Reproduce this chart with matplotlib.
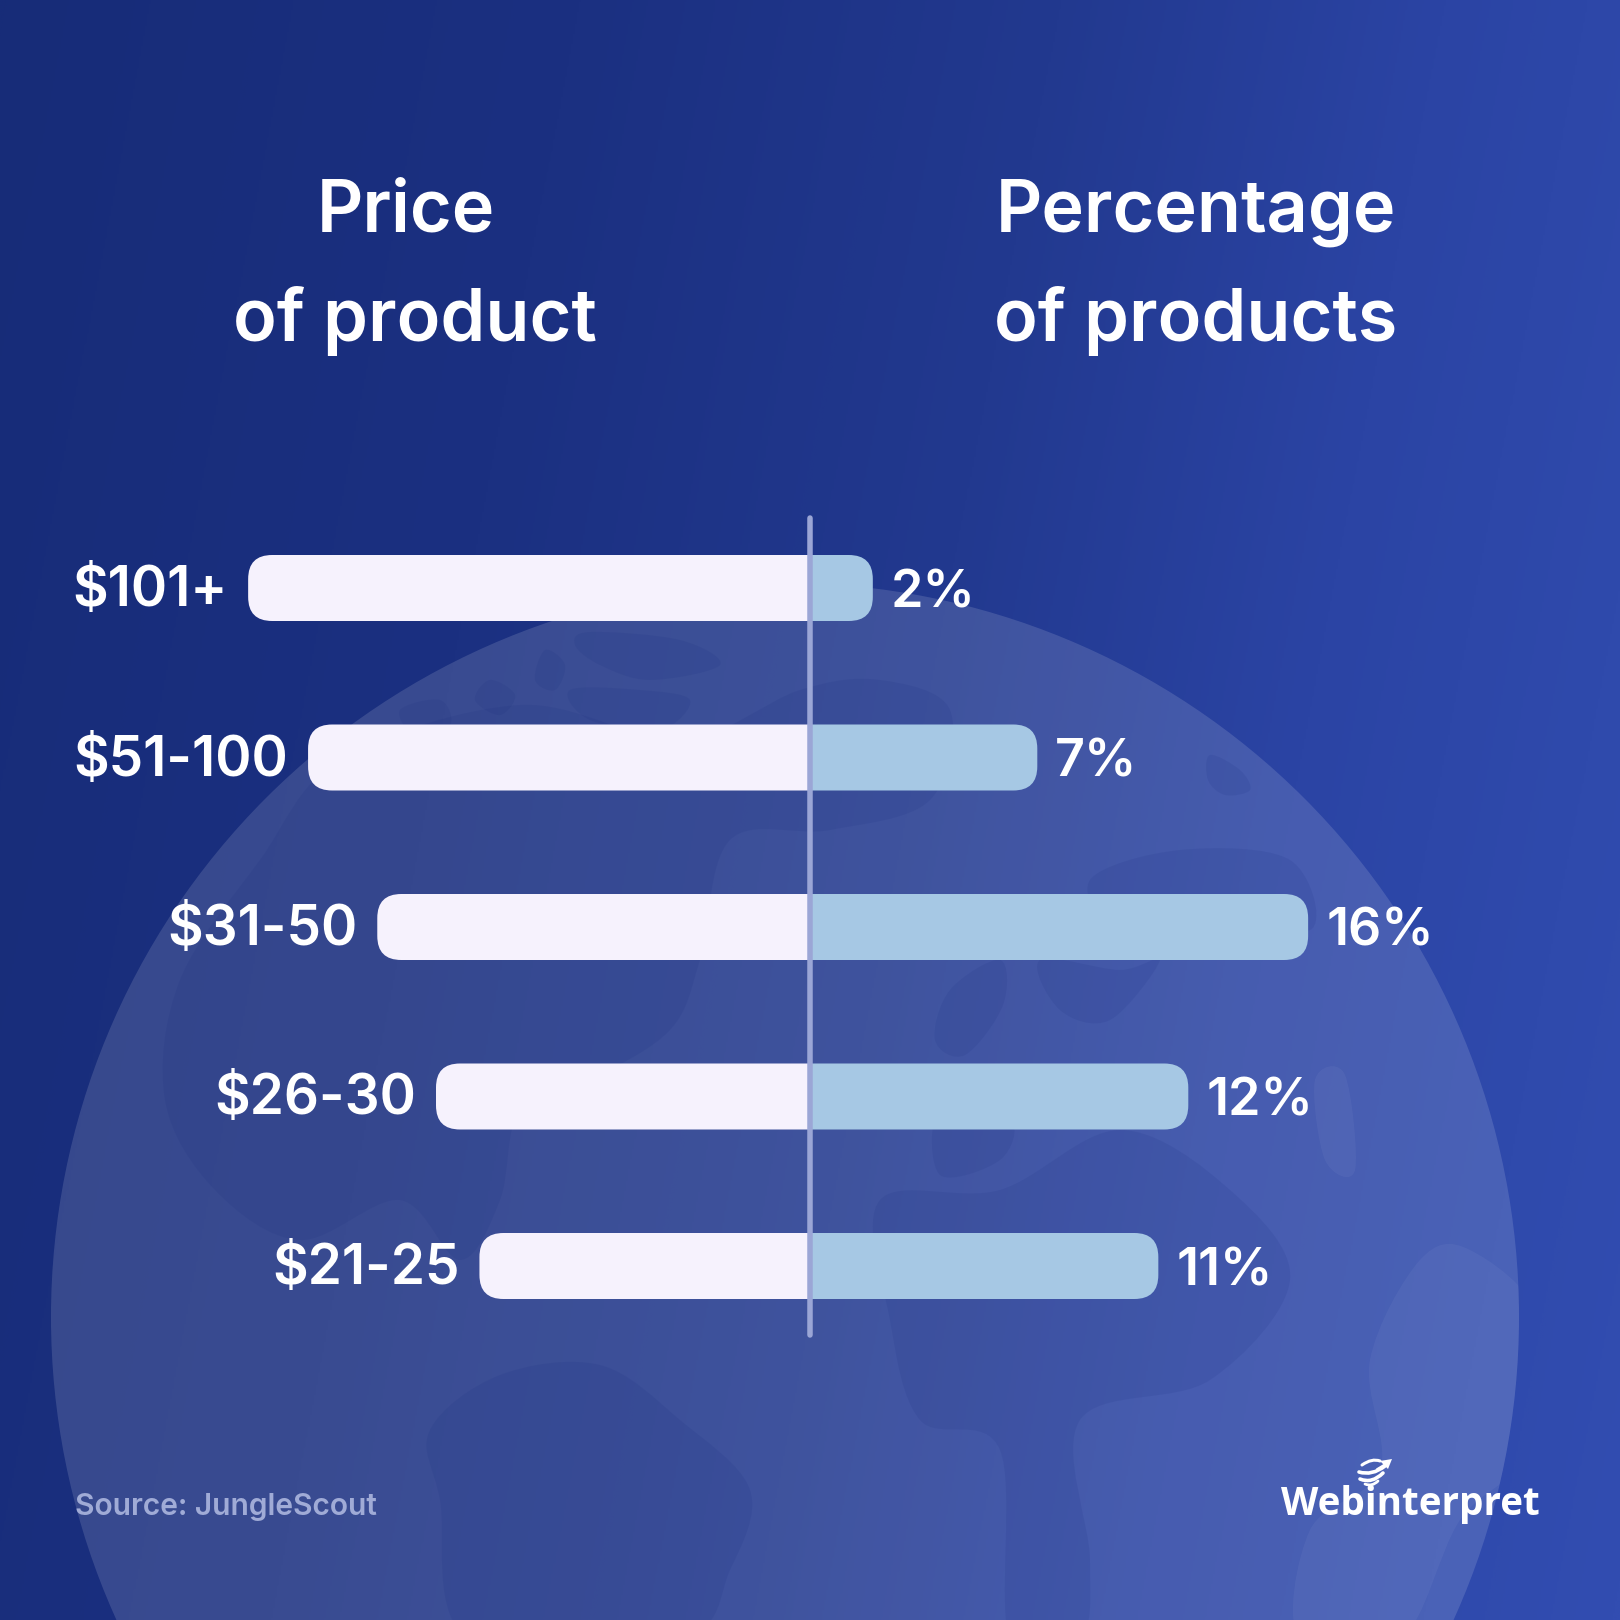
import numpy as np
import matplotlib
matplotlib.use("Agg")
import matplotlib.pyplot as plt
from matplotlib.patches import Circle, FancyBboxPatch, Rectangle, PathPatch, Polygon
from matplotlib.path import Path
from matplotlib.colors import LinearSegmentedColormap

# ---------- data ----------
price_labels = ["$101+", "$51-100", "$31-50", "$26-30", "$21-25"]
pct_labels = ["2%", "7%", "16%", "12%", "11%"]
left_lengths = [18.72, 16.72, 14.41, 12.45, 11.0]
right_lengths = [2.13, 7.62, 16.66, 12.66, 11.66]

title_left = ["Price", "of product"]
title_right = ["Percentage", "of products"]
source_text = "Source: JungleScout"
brand_text = "Webinterpret"

# ---------- layout constants (pixels) ----------
W = 1620
ZERO_X = 809.0
UNIT_PX = 29.96
ROW0_Y = 588.0
ROW_PX = 169.5
BAR_PX = 66.0
FONT = "Inter"
px = lambda v: v * 0.72

fig = plt.figure(figsize=(W / 100, W / 100), dpi=100)

# background, pixel coordinates
bg = fig.add_axes([0, 0, 1, 1])
bg.set_xlim(0, W)
bg.set_ylim(W, 0)
bg.axis("off")

xx, yy = np.meshgrid(np.linspace(0, 1, 800), np.linspace(0, 1, 800))
t = np.clip(0.84 * xx + 0.16 * yy, 0, 1)
cmap = LinearSegmentedColormap.from_list(
    "bg", [(0.0, "#172c78"), (0.3, "#1b3081"), (0.55, "#22398f"),
           (0.75, "#2b44a4"), (0.9, "#2f4aac"), (1.0, "#324db1")])
bg.imshow(t, extent=(0, W, W, 0), cmap=cmap, vmin=0, vmax=1, aspect="auto", zorder=0)

# globe
GX, GY, GR = 785, 1317, 734
globe = Circle((GX, GY), GR, fc="white", ec="none", alpha=0.135, zorder=1)
bg.add_patch(globe)
clip = Circle((GX, GY), GR, transform=bg.transData)


def blob(pts):
    """Closed smooth outline through the given points."""
    p = np.array(pts, float)
    n = len(p)
    verts = [p[0]]
    codes = [Path.MOVETO]
    for i in range(n):
        p0, p1, p2, p3 = p[(i - 1) % n], p[i], p[(i + 1) % n], p[(i + 2) % n]
        verts += [p1 + (p2 - p0) / 6, p2 - (p3 - p1) / 6, p2]
        codes += [Path.CURVE4] * 3
    return Path(verts, codes)


dark = [
    # arctic islands and north
    [(590, 632), (680, 640), (720, 665), (650, 680), (600, 665), (575, 645)],
    [(545, 650), (565, 665), (555, 690), (535, 680)],
    [(490, 680), (515, 695), (500, 715), (475, 700)],
    [(400, 710), (440, 700), (450, 725), (415, 735)],
    [(570, 690), (640, 690), (690, 700), (660, 730), (590, 720)],
    # north america
    [(340, 760), (520, 705), (680, 740), (800, 690), (880, 680), (950, 710), (930, 800),
     (830, 830), (730, 840), (700, 960), (670, 1030), (590, 1080), (520, 1110), (500, 1200),
     (460, 1260), (400, 1200), (300, 1240), (215, 1190), (165, 1100), (180, 980), (260, 860)],
    # south america
    [(500, 1375), (600, 1365), (680, 1420), (750, 1490), (730, 1570), (680, 1640),
     (470, 1640), (440, 1500), (430, 1430)],
    # europe / north asia
    [(1090, 880), (1180, 850), (1290, 860), (1310, 930), (1200, 900), (1120, 935)],
    [(1000, 960), (1003, 1005), (965, 1055), (935, 1040), (950, 990)],
    [(1040, 960), (1120, 970), (1160, 960), (1110, 1020), (1060, 1010)],
    # africa / eurasia south
    [(880, 1200), (1000, 1190), (1120, 1130), (1230, 1190), (1290, 1280), (1210, 1380),
     (1080, 1420), (1090, 1560), (1080, 1640), (1010, 1640), (1000, 1450), (920, 1420), (890, 1320)],
    [(940, 1110), (1010, 1120), (1000, 1160), (940, 1175)],
    [(1210, 755), (1240, 770), (1250, 790), (1225, 795), (1208, 780)],
]
for pts in dark:
    patch = PathPatch(blob(pts), fc="#12267a", ec="none", alpha=0.10, zorder=2)
    bg.add_patch(patch)
    patch.set_clip_path(clip)

light = [
    [(1420, 1260), (1470, 1250), (1540, 1320), (1530, 1450), (1460, 1520), (1400, 1640),
     (1300, 1640), (1310, 1530), (1380, 1470), (1370, 1360)],
    [(1315, 1080), (1345, 1075), (1355, 1170), (1325, 1160)],
]
for pts in light:
    patch = PathPatch(blob(pts), fc="white", ec="none", alpha=0.045, zorder=2)
    bg.add_patch(patch)
    patch.set_clip_path(clip)

# chart axes: percent on x, row index on y
ax = fig.add_axes([0, 0, 1, 1])
ax.set_xlim(-ZERO_X / UNIT_PX, (W - ZERO_X) / UNIT_PX)
ax.set_ylim((W - ROW0_Y) / ROW_PX, -ROW0_Y / ROW_PX)
ax.axis("off")
ax.patch.set_alpha(0)

bar_h = BAR_PX / ROW_PX
aspect = UNIT_PX / ROW_PX
radius = 24 / UNIT_PX

for i in range(len(price_labels)):
    # left bar
    L = left_lengths[i]
    b = FancyBboxPatch((-L, i - bar_h / 2), L + 1, bar_h,
                       boxstyle=f"round,pad=0,rounding_size={radius}",
                       mutation_aspect=aspect, fc="#f6f2fd", ec="none", zorder=3)
    ax.add_patch(b)
    b.set_clip_path(Rectangle((-40, i - 1), 40, 2, transform=ax.transData))
    # right bar
    R = right_lengths[i]
    b = FancyBboxPatch((-1, i - bar_h / 2), R + 1, bar_h,
                       boxstyle=f"round,pad=0,rounding_size={radius}",
                       mutation_aspect=aspect, fc="#a6c8e4", ec="none", zorder=3)
    ax.add_patch(b)
    b.set_clip_path(Rectangle((0, i - 1), 40, 2, transform=ax.transData))

    ax.annotate(price_labels[i], (-L, i), xytext=(px(-20), px(-18)), textcoords="offset points",
                ha="right", va="baseline", color="white", family=FONT, weight="semibold",
                fontsize=px(55), zorder=5)
    ax.annotate(pct_labels[i], (R, i), xytext=(px(18), px(-19)), textcoords="offset points",
                ha="left", va="baseline", color="white", family=FONT, weight="semibold",
                fontsize=px(52), zorder=5)

# centre line
line_x = 1 / UNIT_PX
ax.plot([line_x, line_x], [(518 - ROW0_Y) / ROW_PX, (1335 - ROW0_Y) / ROW_PX], color="#9ba6d6",
        lw=px(5.5), solid_capstyle="round", zorder=4)

# titles
for s, x, y in [(title_left[0], 406, 232), (title_left[1], 415, 341),
                (title_right[0], 1196, 232), (title_right[1], 1196, 341)]:
    bg.text(x, y, s, ha="center", va="baseline", color="white", family=FONT,
            weight="semibold", fontsize=px(72), zorder=6)

# source
bg.text(75, 1515, source_text, ha="left", va="baseline", color="#a0abd6", family=FONT,
        weight="semibold", fontsize=px(30), zorder=6)

# brand
bg.text(1410, 1515, brand_text, ha="center", va="baseline", color="white", family="Open Sans",
        weight="bold", fontsize=px(38.6), zorder=6)
for (x0, y0, x1, y1, cx, cy, lw) in [
    (1362, 1465, 1380, 1461, 1372, 1458, 2.2),
    (1359, 1472, 1385, 1466, 1372, 1476, 2.6),
    (1360, 1479, 1383, 1473, 1372, 1484, 2.6),
    (1365, 1484, 1378, 1481, 1372, 1487, 2.0),
]:
    p = Path([(x0, y0), (cx, cy), (x1, y1)], [Path.MOVETO, Path.CURVE3, Path.CURVE3])
    bg.add_patch(PathPatch(p, fc="none", ec="white", lw=lw, capstyle="round", zorder=6))
bg.plot([1378, 1388], [1469, 1463], color="white", lw=2, zorder=6)
bg.add_patch(Polygon([(1392, 1459), (1380, 1461), (1388, 1469)], fc="white", ec="none", zorder=6))

fig.savefig("out.png", dpi=100)
